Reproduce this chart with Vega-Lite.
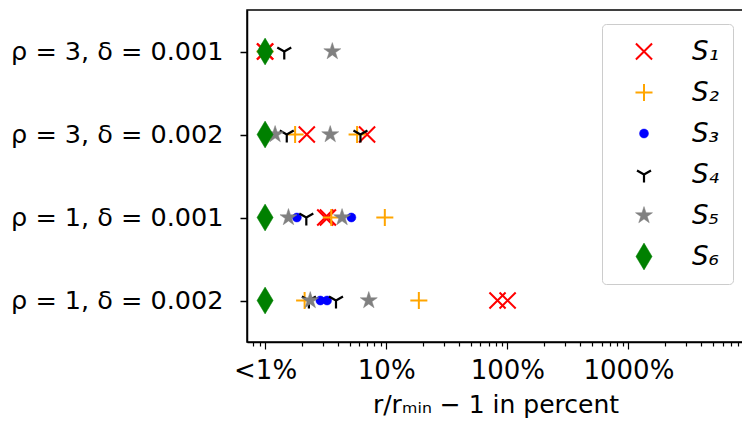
{
  "$schema": "https://vega.github.io/schema/vega-lite/v6.json",
  "autosize": "none",
  "width": 497,
  "height": 332,
  "padding": {"left": 247, "top": 10, "right": 0, "bottom": 92},
  "background": "white",
  "config": {
    "view": {"stroke": "black", "strokeWidth": 1.5},
    "font": "DejaVu Sans"
  },
  "data": {
    "values": [
      {"case": "ρ = 3, δ = 0.001", "series": "S₁", "value": 1},
      {"case": "ρ = 3, δ = 0.001", "series": "S₁", "value": 1},
      {"case": "ρ = 3, δ = 0.001", "series": "S₂", "value": 1},
      {"case": "ρ = 3, δ = 0.001", "series": "S₃", "value": 1},
      {"case": "ρ = 3, δ = 0.001", "series": "S₄", "value": 1.44},
      {"case": "ρ = 3, δ = 0.001", "series": "S₅", "value": 3.59},
      {"case": "ρ = 3, δ = 0.001", "series": "S₆", "value": 1},
      {"case": "ρ = 3, δ = 0.002", "series": "S₁", "value": 2.21},
      {"case": "ρ = 3, δ = 0.002", "series": "S₁", "value": 6.95},
      {"case": "ρ = 3, δ = 0.002", "series": "S₂", "value": 1.77},
      {"case": "ρ = 3, δ = 0.002", "series": "S₂", "value": 5.75},
      {"case": "ρ = 3, δ = 0.002", "series": "S₃", "value": 1},
      {"case": "ρ = 3, δ = 0.002", "series": "S₄", "value": 1.51},
      {"case": "ρ = 3, δ = 0.002", "series": "S₄", "value": 6.13},
      {"case": "ρ = 3, δ = 0.002", "series": "S₅", "value": 1.21},
      {"case": "ρ = 3, δ = 0.002", "series": "S₅", "value": 3.45},
      {"case": "ρ = 3, δ = 0.002", "series": "S₆", "value": 1},
      {"case": "ρ = 1, δ = 0.001", "series": "S₁", "value": 3.14},
      {"case": "ρ = 1, δ = 0.001", "series": "S₁", "value": 3.3},
      {"case": "ρ = 1, δ = 0.001", "series": "S₂", "value": 3.52},
      {"case": "ρ = 1, δ = 0.001", "series": "S₂", "value": 9.74},
      {"case": "ρ = 1, δ = 0.001", "series": "S₃", "value": 1.83},
      {"case": "ρ = 1, δ = 0.001", "series": "S₃", "value": 5.16},
      {"case": "ρ = 1, δ = 0.001", "series": "S₄", "value": 2.19},
      {"case": "ρ = 1, δ = 0.001", "series": "S₅", "value": 1.56},
      {"case": "ρ = 1, δ = 0.001", "series": "S₅", "value": 4.32},
      {"case": "ρ = 1, δ = 0.001", "series": "S₆", "value": 1},
      {"case": "ρ = 1, δ = 0.002", "series": "S₁", "value": 83},
      {"case": "ρ = 1, δ = 0.002", "series": "S₁", "value": 100.6},
      {"case": "ρ = 1, δ = 0.002", "series": "S₂", "value": 2.12},
      {"case": "ρ = 1, δ = 0.002", "series": "S₂", "value": 18.6},
      {"case": "ρ = 1, δ = 0.002", "series": "S₃", "value": 2.86},
      {"case": "ρ = 1, δ = 0.002", "series": "S₃", "value": 3.25},
      {"case": "ρ = 1, δ = 0.002", "series": "S₄", "value": 2.3},
      {"case": "ρ = 1, δ = 0.002", "series": "S₄", "value": 3.85},
      {"case": "ρ = 1, δ = 0.002", "series": "S₅", "value": 2.36},
      {"case": "ρ = 1, δ = 0.002", "series": "S₅", "value": 7.18},
      {"case": "ρ = 1, δ = 0.002", "series": "S₆", "value": 1}
    ]
  },
  "mark": {"type": "point", "filled": false, "opacity": 1},
  "encoding": {
    "x": {
      "field": "value",
      "type": "quantitative",
      "scale": {"type": "log", "domain": [0.709, 9000], "nice": false},
      "axis": {
        "values": [0.8, 0.9, 1, 2, 3, 4, 5, 6, 7, 8, 9, 10, 20, 30, 40, 50, 60, 70, 80, 90, 100, 200, 300, 400, 500, 600, 700, 800, 900, 1000, 2000, 3000, 4000, 5000, 6000, 7000, 8000],
        "labelExpr": "datum.value == 1 ? '<1%' : (datum.value == 10 || datum.value == 100 || datum.value == 1000) ? format(datum.value, 'd') + '%' : ''",
        "tickSize": {"condition": {"test": "datum.value == 1 || datum.value == 10 || datum.value == 100 || datum.value == 1000", "value": 7}, "value": 4},
        "tickColor": "black",
        "tickWidth": 1.2,
        "domainColor": "black",
        "domainWidth": 1.5,
        "labelFontSize": 26,
        "labelColor": "black",
        "labelPadding": 8,
        "labelFlush": false,
        "labelOverlap": false,
        "grid": false,
        "title": "r/rₘᵢₙ − 1 in percent",
        "titleFontSize": 25,
        "titleFontWeight": "normal",
        "titleColor": "black",
        "titlePadding": 9
      }
    },
    "y": {
      "field": "case",
      "type": "nominal",
      "sort": ["ρ = 3, δ = 0.001", "ρ = 3, δ = 0.002", "ρ = 1, δ = 0.001", "ρ = 1, δ = 0.002"],
      "scale": {"type": "point", "padding": 0.5},
      "axis": {
        "title": null,
        "labelFontSize": 25.5,
        "labelColor": "black",
        "labelLimit": 300,
        "tickSize": 7,
        "tickWidth": 1.5,
        "tickColor": "black",
        "domainColor": "black",
        "domainWidth": 1.5,
        "labelPadding": 17,
        "grid": false
      }
    },
    "shape": {
      "field": "series",
      "type": "nominal",
      "scale": {
        "domain": ["S₁", "S₂", "S₃", "S₄", "S₅", "S₆"],
        "range": [
          "M-1,-1L1,1M-1,1L1,-1",
          "M-1,0L1,0M0,-1L0,1",
          "circle",
          "M0,0L0,1M0,0L-0.866,-0.5M0,0L0.866,-0.5",
          "M0,-1L0.2245,-0.309L0.951,-0.309L0.363,0.118L0.588,0.809L0,0.382L-0.588,0.809L-0.363,0.118L-0.951,-0.309L-0.2245,-0.309Z",
          "M0,-1L0.6,0L0,1L-0.6,0Z"
        ]
      },
      "legend": {
        "title": null,
        "orient": "none",
        "legendX": 355,
        "legendY": 14,
        "labelFontSize": 26,
        "labelFontStyle": "italic",
        "labelColor": "black",
        "strokeColor": "#cccccc",
        "cornerRadius": 4,
        "fillColor": "white",
        "padding": 14,
        "rowPadding": 14,
        "clipHeight": 27,
        "labelOffset": 34,
        "symbolOffset": 14
      }
    },
    "stroke": {
      "field": "series",
      "type": "nominal",
      "scale": {"domain": ["S₁", "S₂", "S₃", "S₄", "S₅", "S₆"], "range": ["red", "orange", "blue", "black", "gray", "green"]}
    },
    "fill": {
      "field": "series",
      "type": "nominal",
      "scale": {"domain": ["S₁", "S₂", "S₃", "S₄", "S₅", "S₆"], "range": ["transparent", "transparent", "blue", "transparent", "gray", "green"]}
    },
    "size": {
      "field": "series",
      "type": "nominal",
      "scale": {"type": "ordinal", "domain": ["S₁", "S₂", "S₃", "S₄", "S₅", "S₆"], "range": [260, 290, 80, 260, 320, 720]}
    },
    "strokeWidth": {
      "field": "series",
      "type": "nominal",
      "scale": {"type": "ordinal", "domain": ["S₁", "S₂", "S₃", "S₄", "S₅", "S₆"], "range": [2, 2, 0.5, 2.2, 0.5, 0.5]}
    },
    "order": {"field": "series", "sort": "ascending"}
  }
}
